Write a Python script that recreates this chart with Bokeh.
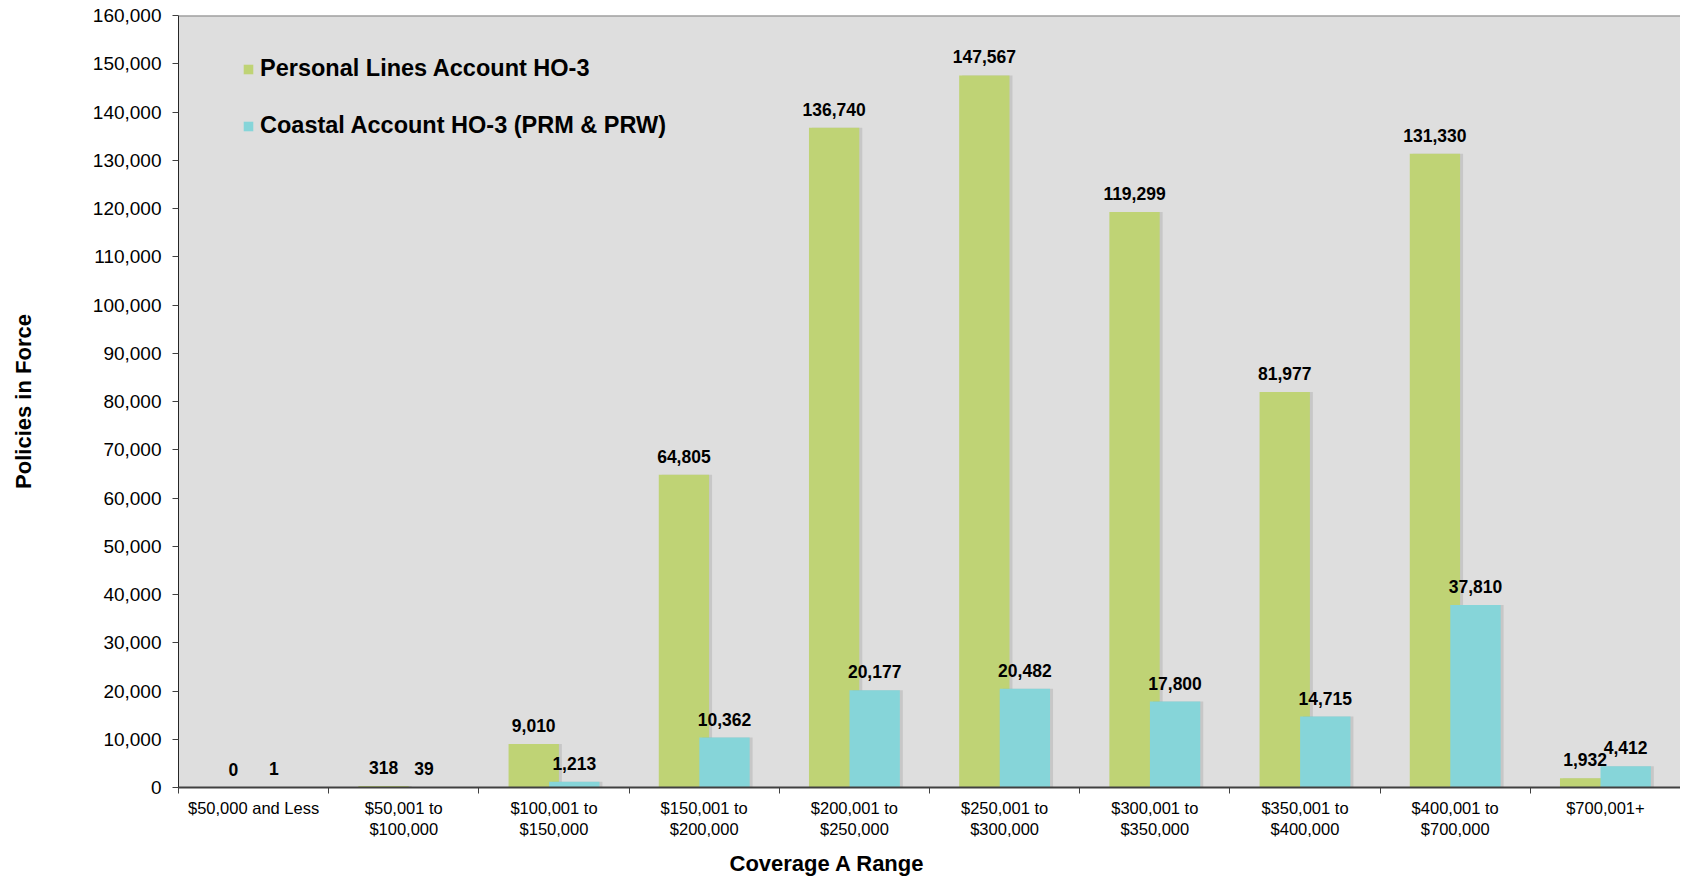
import numpy as np
from bokeh.plotting import figure
from bokeh.models import (ColumnDataSource, Range1d, FixedTicker, NumeralTickFormatter,
                          LabelSet, Legend, LegendItem, Span, Title)
from bokeh.core.properties import value
from bokeh.transform import dodge
from bokeh.embed import file_html
from bokeh.resources import INLINE

categories = ["$50,000 and Less", "$50,001 to\n$100,000", "$100,001 to\n$150,000",
              "$150,001 to\n$200,000", "$200,001 to\n$250,000", "$250,001 to\n$300,000",
              "$300,001 to\n$350,000", "$350,001 to\n$400,000", "$400,001 to\n$700,000",
              "$700,001+"]
personal = [0, 318, 9010, 64805, 136740, 147567, 119299, 81977, 131330, 1932]
coastal = [1, 39, 1213, 10362, 20177, 20482, 17800, 14715, 37810, 4412]
series_names = ["Personal Lines Account HO-3", "Coastal Account HO-3 (PRM & PRW)"]
y_ticks = list(range(0, 160001, 10000))

GREEN = "#BFD375"
CYAN = "#86D5D9"
FONT = "Liberation Sans"

n = len(categories)
centers = [i + 0.5 for i in range(n)]
src = ColumnDataSource(dict(
    x=centers,
    personal=personal,
    coastal=coastal,
    personal_lbl=[f"{v:,}" for v in personal],
    coastal_lbl=[f"{v:,}" for v in coastal],
))

p = figure(width=1680, height=882, output_backend="svg", toolbar_location=None,
           x_range=Range1d(0, n), y_range=Range1d(0, 160000),
           min_border_left=178, min_border_right=0, min_border_top=15, min_border_bottom=94)
p.background_fill_color = "#DEDEDE"
p.border_fill_color = "white"
p.outline_line_color = None
p.xgrid.visible = False
p.ygrid.visible = False

W = 0.335
OFF = 0.135
# subtle shadows
p.vbar(x=dodge("x", -OFF + 0.02, range=p.x_range), top="personal", width=W, bottom=0,
       source=src, fill_color="black", fill_alpha=0.10, line_color=None)
r1 = p.vbar(x=dodge("x", -OFF, range=p.x_range), top="personal", width=W, bottom=0,
            source=src, fill_color=GREEN, line_color=None)
p.vbar(x=dodge("x", OFF + 0.02, range=p.x_range), top="coastal", width=W, bottom=0,
       source=src, fill_color="black", fill_alpha=0.10, line_color=None)
r2 = p.vbar(x=dodge("x", OFF, range=p.x_range), top="coastal", width=W, bottom=0,
            source=src, fill_color=CYAN, line_color=None)

for fld, off in (("personal", -OFF), ("coastal", OFF)):
    p.add_layout(LabelSet(x=dodge("x", off, range=p.x_range), y=fld, text=fld + "_lbl",
                          source=src, text_align="center", text_baseline="alphabetic",
                          y_offset=12, text_font=value(FONT), text_font_style="bold",
                          text_font_size="17.5px", text_color="black"))

# top border
p.add_layout(Span(location=160000, dimension="width", line_color="#808080", line_width=2))

# x axis
xa = p.xaxis[0]
xa.ticker = FixedTicker(ticks=centers, minor_ticks=list(range(0, n + 1)))
xa.major_label_overrides = {c: lab for c, lab in zip(centers, categories)}
xa.major_tick_line_color = None
xa.minor_tick_out = 6
xa.minor_tick_in = 0
xa.minor_tick_line_color = "#404040"
xa.axis_line_color = "#404040"
xa.axis_line_width = 2
xa.major_label_text_font = FONT
xa.major_label_text_font_size = "16.5px"
xa.major_label_text_color = "black"
xa.major_label_standoff = 5

# y axis
ya = p.yaxis[0]
ya.ticker = FixedTicker(ticks=y_ticks)
ya.formatter = NumeralTickFormatter(format="0,0")
ya.major_tick_out = 6
ya.major_tick_in = 0
ya.minor_tick_line_color = None
ya.major_tick_line_color = "#404040"
ya.axis_line_color = "#262626"
ya.major_label_text_font = FONT
ya.major_label_text_font_size = "19px"
ya.major_label_text_color = "black"
ya.major_label_standoff = 11
ya.axis_label = "Policies in Force"
ya.axis_label_text_font = FONT
ya.axis_label_text_font_size = "22px"
ya.axis_label_text_font_style = "bold"
ya.axis_label_text_color = "black"
ya.axis_label_standoff = 54

p.add_layout(Title(text="Coverage A Range", align="left", offset=551, standoff=14,
                   text_font=FONT, text_font_size="22px", text_font_style="bold",
                   text_color="black"), "below")

legend = Legend(items=[LegendItem(label=series_names[0], renderers=[r1]),
                       LegendItem(label=series_names[1], renderers=[r2])],
                location=(64, 648), margin=0, padding=0, spacing=30,
                glyph_width=12, glyph_height=12, label_standoff=6,
                label_text_font=FONT, label_text_font_size="23.5px",
                label_text_font_style="bold", label_text_color="black",
                background_fill_alpha=0, border_line_color=None)
p.add_layout(legend)

open("out.html", "w").write(file_html(p, INLINE))
